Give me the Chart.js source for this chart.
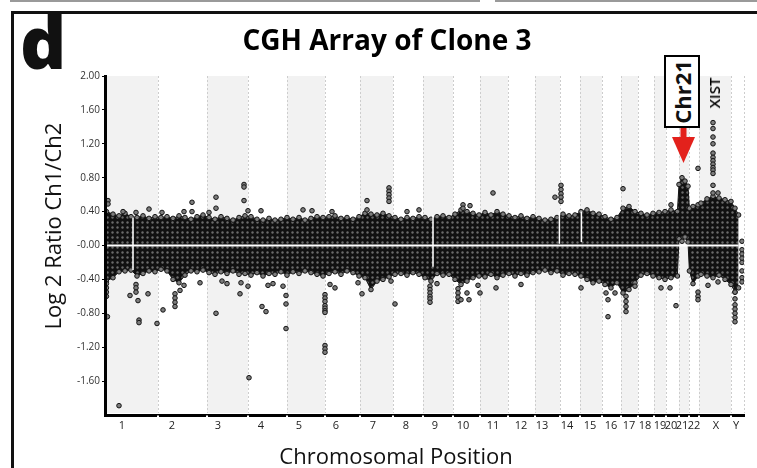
<!DOCTYPE html>
<html>
<head>
<meta charset="utf-8">
<script src="https://cdn.jsdelivr.net/npm/chart.js@4.4.1/dist/chart.umd.min.js"></script>
<style>
  html, body { margin: 0; padding: 0; background: #fff; }
  #wrap { position: relative; width: 757px; height: 468px; overflow: hidden; font-family: "Open Sans", sans-serif; color: #111; }
  #chart { position: absolute; left: 0; top: 0; }
  .topline { position: absolute; top: 0; height: 2px; background: #9a9a9a; }
  #frame { position: absolute; left: 11px; top: 11px; width: 800px; height: 520px; border: 3px solid #111; }
  #panel { position: absolute; left: 20px; top: 5px; font-size: 72px; font-weight: 800; line-height: 1; }
  #ytitle { position: absolute; left: 52px; top: 226px; transform: translate(-50%, -50%) rotate(-90deg); white-space: nowrap; font-size: 22px; }
  #xtitle { position: absolute; left: 396px; top: 455px; transform: translate(-50%, -50%); white-space: nowrap; font-size: 22px; }
  #chr21 { position: absolute; left: 664px; top: 55px; width: 32px; height: 69px; border: 2px solid #000; background: #fff; }
  #chr21 span { position: absolute; left: 50%; top: 50%; transform: translate(-50%, -50%) rotate(-90deg); font-weight: 700; font-size: 22px; white-space: nowrap; }
  #arrow { position: absolute; left: 671px; top: 128px; }
  #xist { position: absolute; left: 714px; top: 93px; transform: translate(-50%, -50%) rotate(-90deg); font-size: 15px; font-weight: 600; white-space: nowrap; color: #000; }
</style>
</head>
<body>
<div id="wrap">
  <div class="topline" style="left:10px;width:470px"></div>
  <div class="topline" style="left:495px;width:262px"></div>
  <div id="frame"></div>
  <canvas id="chart" width="757" height="468"></canvas>
  <div id="panel">d</div>
  <div id="ytitle">Log 2 Ratio Ch1/Ch2</div>
  <div id="xtitle">Chromosomal Position</div>
  <div id="chr21"><span>Chr21</span></div>
  <svg id="arrow" width="25" height="36" viewBox="0 0 25 36">
    <rect x="9.5" y="0" width="6" height="11" fill="#e3211c"/>
    <polygon points="1,9 24,9 12.5,35" fill="#e3211c"/>
  </svg>
  <div id="xist">XIST</div>
</div>
<script>
// chromosomes along the genome axis (position units)
const chromNames = ['1', '2', '3', '4', '5', '6', '7', '8', '9', '10', '11', '12',
    '13', '14', '15', '16', '17', '18', '19', '20', '21', '22', 'X', 'Y'];
const chromLengths = [255, 245, 205, 195, 190, 175, 165, 150, 150, 135, 140, 135,
    125, 100, 110, 95, 85, 80, 60, 65, 50, 50, 160, 65];
const tickPos = [75, 325, 555, 770, 960, 1145, 1330, 1495, 1640, 1780, 1930, 2070,
    2175, 2300, 2415, 2520, 2610, 2690, 2765, 2820, 2875, 2935, 3045, 3145];

const yTickValues = [-1.6, -1.2, -0.8, -0.4, 0, 0.4, 0.8, 1.2, 1.6, 2.0];
const yTickLabels = ['-1.60', '-1.20', '-0.80', '-0.40', '-0.00', '0.40', '0.80', '1.20', '1.60', '2.00'];

// upper / lower edge of the dense probe cloud
const bandPos = [
    -3, 30, 60, 90, 120, 150, 180, 210, 240,
    270, 300, 330, 360, 390, 420, 450, 480,
    510, 540, 570, 600, 630, 660, 690,
    720, 750, 780, 810, 840, 870,
    900, 930, 960, 990, 1020, 1050, 1080,
    1110, 1140, 1170, 1200, 1230, 1260,
    1290, 1320, 1350, 1380, 1410,
    1440, 1470, 1500, 1530, 1560,
    1590, 1620, 1650, 1680, 1710,
    1740, 1770, 1800, 1830, 1860,
    1890, 1920, 1950, 1980,
    2010, 2040, 2070, 2100, 2130,
    2160, 2190, 2220, 2250,
    2280, 2310, 2340,
    2370, 2400, 2430, 2460,
    2490, 2520, 2550,
    2580, 2610, 2640,
    2670, 2700, 2730,
    2760, 2790,
    2820, 2852,
    2860, 2875, 2890, 2905,
    2912, 2930, 2955,
    2970, 3000, 3030, 3060, 3090, 3120, 3140, 3158
];
const bandHi = [
    0.40, 0.37, 0.35, 0.38, 0.34, 0.33, 0.35, 0.32, 0.34,
    0.33, 0.34, 0.32, 0.35, 0.33, 0.31, 0.34, 0.36,
    0.33, 0.31, 0.34, 0.32, 0.30, 0.33, 0.35,
    0.34, 0.31, 0.30, 0.32, 0.30, 0.31,
    0.33, 0.31, 0.33, 0.30, 0.32, 0.34, 0.33,
    0.34, 0.35, 0.32, 0.33, 0.31, 0.34,
    0.38, 0.37, 0.36, 0.38, 0.35,
    0.33, 0.31, 0.33, 0.32, 0.34,
    0.33, 0.31, 0.34, 0.35, 0.33,
    0.37, 0.42, 0.40, 0.38, 0.36,
    0.39, 0.36, 0.40, 0.37,
    0.35, 0.33, 0.35, 0.32, 0.34,
    0.32, 0.30, 0.31, 0.33,
    0.37, 0.35, 0.36,
    0.40, 0.42, 0.38, 0.37,
    0.34, 0.31, 0.33,
    0.44, 0.46, 0.40,
    0.38, 0.36, 0.38,
    0.39, 0.40,
    0.42, 0.40,
    0.72, 0.80, 0.76, 0.70,
    0.44, 0.46, 0.48,
    0.50, 0.55, 0.58, 0.56, 0.54, 0.52, 0.44, 0.36
];
const bandLo = [
    -0.42, -0.38, -0.31, -0.30, -0.29, -0.36, -0.33, -0.30, -0.31,
    -0.28, -0.30, -0.40, -0.44, -0.35, -0.30, -0.31, -0.29,
    -0.32, -0.34, -0.31, -0.33, -0.30, -0.34, -0.33,
    -0.35, -0.32, -0.36, -0.33, -0.34, -0.31,
    -0.35, -0.31, -0.33, -0.30, -0.32, -0.34, -0.36,
    -0.33, -0.31, -0.34, -0.30, -0.32, -0.36,
    -0.38, -0.52, -0.42, -0.40, -0.37,
    -0.34, -0.33, -0.35, -0.32, -0.34,
    -0.38, -0.42, -0.33, -0.35, -0.34,
    -0.40, -0.46, -0.42, -0.38, -0.36,
    -0.37, -0.34, -0.38, -0.35,
    -0.33, -0.36, -0.33, -0.35, -0.32,
    -0.31, -0.29, -0.32, -0.30,
    -0.35, -0.33, -0.34,
    -0.36, -0.40, -0.44, -0.42,
    -0.46, -0.50, -0.44,
    -0.56, -0.52, -0.44,
    -0.35, -0.33, -0.36,
    -0.38, -0.40,
    -0.38, -0.36,
    0.08, 0.05, 0.10, 0.04,
    -0.30, -0.45, -0.36,
    -0.34, -0.36, -0.38, -0.35, -0.40, -0.46, -0.55, -0.50
];

// probe-free gaps (centromeres) cutting through the cloud
const gapPos = [130, 1630, 2262, 2372];
const gapTop = [0.33, 0.36, 0.40, 0.40];
const gapBottom = [-0.29, -0.25, 0.02, 0.04];

// isolated probes outside the cloud
const outlierPos = [
    5, 5, 80, 145, 210, 275, 385, 425, 425, 510, 545, 545, 685, 685, 685, 705, 770,
    980, 1025, 1125, 1300, 1300, 1410, 1410, 1410, 1410, 1410, 1500, 1560, 1780, 1780, 1815,
    1930, 2240, 2270, 2270, 2270, 2270, 2270, 2580, 2820, 2955,
    3030, 3030, 3030, 3030, 3030, 3030, 3030, 3030, 3030, 3030, 3030, 3030, 3030, 3055,
    -3, -3, -3, -3, 2, 60, 115, 145, 145, 145, 155, 160, 160, 205, 250, 280,
    340, 340, 340, 340, 365, 385, 465, 545, 575, 600, 665, 670, 705, 710, 775, 795, 805, 830, 880,
    895, 895, 895, 1090, 1090, 1090, 1090, 1090, 1090, 1090, 1090, 1090, 1090, 1115, 1140, 1255, 1275,
    1420, 1440, 1615, 1615, 1615, 1615, 1615, 1615, 1650, 1755, 1755, 1755, 1755, 1770, 1800, 1810,
    1855, 1865, 1945, 2070, 2370, 2495, 2505, 2505, 2540, 2595, 2595, 2595, 2595, 2640, 2770, 2815,
    2845, 2955, 2955, 2955, 3005, 3055,
    3140, 3140, 3140, 3140, 3140, 3140, 3140,
    3175, 3175, 3175, 3175, 3175, 3175, 3175, 3175
];
const outlierVal = [
    0.53, 0.49, 0.40, 0.39, 0.43, 0.39, 0.40, 0.51, 0.40, 0.39, 0.57, 0.44, 0.72, 0.69, 0.53, 0.41, 0.41,
    0.42, 0.41, 0.40, 0.53, 0.42, 0.68, 0.64, 0.60, 0.56, 0.52, 0.40, 0.42, 0.48, 0.44, 0.47,
    0.62, 0.57, 0.71, 0.66, 0.61, 0.57, 0.52, 0.67, 0.48, 0.91,
    1.45, 1.38, 1.28, 1.20, 1.09, 1.04, 1.00, 0.96, 0.92, 0.89, 0.85, 0.71, 0.62, 0.62,
    -0.45, -0.50, -0.55, -0.60, -0.84, -1.89, -0.59, -0.46, -0.50, -0.55, -0.65, -0.88, -0.91, -0.57, -0.92, -0.76,
    -0.57, -0.62, -0.67, -0.72, -0.53, -0.47, -0.44, -0.80, -0.42, -0.45, -0.57, -0.44, -0.48, -1.56, -0.72, -0.78, -0.47, -0.45, -0.48,
    -0.59, -0.69, -0.98, -0.58, -0.62, -0.66, -0.71, -0.74, -0.77, -0.79, -1.18, -1.22, -1.26, -0.46, -0.50, -0.44, -0.57,
    -0.42, -0.69, -0.48, -0.52, -0.56, -0.60, -0.63, -0.67, -0.45, -0.51, -0.56, -0.61, -0.66, -0.64, -0.56, -0.64,
    -0.47, -0.56, -0.50, -0.46, -0.50, -0.56, -0.64, -0.84, -0.56, -0.60, -0.66, -0.72, -0.78, -0.48, -0.50, -0.50,
    -0.71, -0.55, -0.60, -0.64, -0.47, -0.43,
    -0.55, -0.63, -0.70, -0.75, -0.80, -0.85, -0.90,
    0.05, -0.05, -0.10, -0.15, -0.20, -0.30, -0.38, -0.43
];

const canvas = document.getElementById('chart');
const ctx = canvas.getContext('2d');

// dark cloud texture: packed grey probe circles
function cloudPattern() {
    const tile = document.createElement('canvas');
    tile.width = 5;
    tile.height = 5;
    const g = tile.getContext('2d');
    g.fillStyle = '#101010';
    g.fillRect(0, 0, 5, 5);
    g.fillStyle = '#6a6a6a';
    g.beginPath();
    g.arc(2.5, 2.5, 1.2, 0, Math.PI * 2);
    g.fill();
    return ctx.createPattern(tile, 'repeat');
}

// alternating chromosome shading, dotted boundaries, breaks in the x axis line
const chromShading = {
    id: 'chromShading',
    beforeDatasetsDraw(chart) {
        const { ctx, chartArea: a, scales: { x } } = chart;
        ctx.save();
        let start = 0;
        chromLengths.forEach((len, i) => {
            const x0 = x.getPixelForValue(start);
            const x1 = x.getPixelForValue(start + len);
            if (i % 2 === 0) {
                ctx.fillStyle = '#f2f2f2';
                ctx.fillRect(x0, a.top, x1 - x0, a.bottom - a.top - 2);
            }
            start += len;
        });
        ctx.strokeStyle = '#cdcdcd';
        ctx.lineWidth = 1;
        ctx.setLineDash([2, 2]);
        start = 0;
        chromLengths.forEach(len => {
            start += len;
            const px = Math.round(x.getPixelForValue(start)) + 0.5;
            ctx.beginPath();
            ctx.moveTo(px, a.top);
            ctx.lineTo(px, a.bottom - 2);
            ctx.stroke();
        });
        ctx.restore();
    },
    afterDraw(chart) {
        const { ctx, chartArea: a, scales: { x } } = chart;
        ctx.save();
        ctx.fillStyle = '#ffffff';
        let start = 0;
        chromLengths.slice(0, -1).forEach(len => {
            start += len;
            const px = Math.round(x.getPixelForValue(start));
            ctx.fillRect(px - 1, a.bottom + 0.5, 2, 2);
        });
        ctx.restore();
    }
};

const probeStyle = {
    pointRadius: 2.3,
    pointBackgroundColor: '#7d7d7d',
    pointBorderColor: '#141414',
    pointBorderWidth: 1,
};

const datasets = [
    {
        data: bandPos.map((p, i) => ({ x: p, y: bandHi[i] })),
        borderColor: '#141414', borderWidth: 1, fill: '+1',
        backgroundColor: cloudPattern(), order: 6, ...probeStyle,
    },
    {
        data: bandPos.map((p, i) => ({ x: p, y: bandLo[i] })),
        borderColor: '#141414', borderWidth: 1, fill: false, order: 5, ...probeStyle,
    },
    {
        data: [{ x: bandPos[0], y: 0 }, { x: bandPos[bandPos.length - 1], y: 0 }],
        borderColor: '#ffffff', borderWidth: 2, pointRadius: 0, fill: false, order: 3,
    },
];
gapPos.forEach((g, i) => {
    datasets.push({
        data: [{ x: g, y: gapTop[i] }, { x: g, y: gapBottom[i] }],
        borderColor: '#ffffff', borderWidth: 1.5, pointRadius: 0, fill: false, order: 2,
    });
});
datasets.push({
    type: 'scatter',
    data: outlierPos.map((p, i) => ({ x: p, y: outlierVal[i] })),
    showLine: false, order: 1, ...probeStyle,
});

new Chart(ctx, {
    type: 'line',
    data: { datasets },
    options: {
        responsive: false,
        animation: false,
        layout: { padding: { left: 30, right: 13, top: 0, bottom: 0 } },
        plugins: {
            legend: { display: false },
            tooltip: { enabled: false },
            title: {
                display: true,
                text: 'CGH Array of Clone 3',
                color: '#000',
                font: { family: 'Open Sans', size: 28, weight: 'bold' },
                padding: { top: 25, bottom: 17.4 },
            },
        },
        elements: { line: { tension: 0 } },
        scales: {
            x: {
                type: 'linear',
                min: -10,
                max: 3185,
                afterFit: (scale) => { scale.height = 53; },
                afterBuildTicks: (scale) => { scale.ticks = tickPos.map(v => ({ value: v })); },
                grid: { display: false, drawTicks: false },
                border: { display: true, color: '#000', width: 3, z: 1 },
                ticks: {
                    autoSkip: false,
                    maxRotation: 0,
                    padding: 4,
                    color: '#222',
                    font: { family: 'Open Sans', size: 11 },
                    callback: (v, i) => chromNames[i],
                },
            },
            y: {
                min: -2,
                max: 2,
                afterFit: (scale) => { scale.width = 75; },
                afterBuildTicks: (scale) => { scale.ticks = yTickValues.map(v => ({ value: v })); },
                grid: { drawOnChartArea: false, drawTicks: true, tickLength: 3, color: '#000' },
                border: { display: true, color: '#000', width: 3, z: 1 },
                ticks: {
                    padding: 2,
                    color: '#333',
                    font: { family: 'Open Sans', size: 10 },
                    callback: (v, i) => yTickLabels[i],
                },
            },
        },
    },
    plugins: [chromShading],
});
</script>
</body>
</html>
